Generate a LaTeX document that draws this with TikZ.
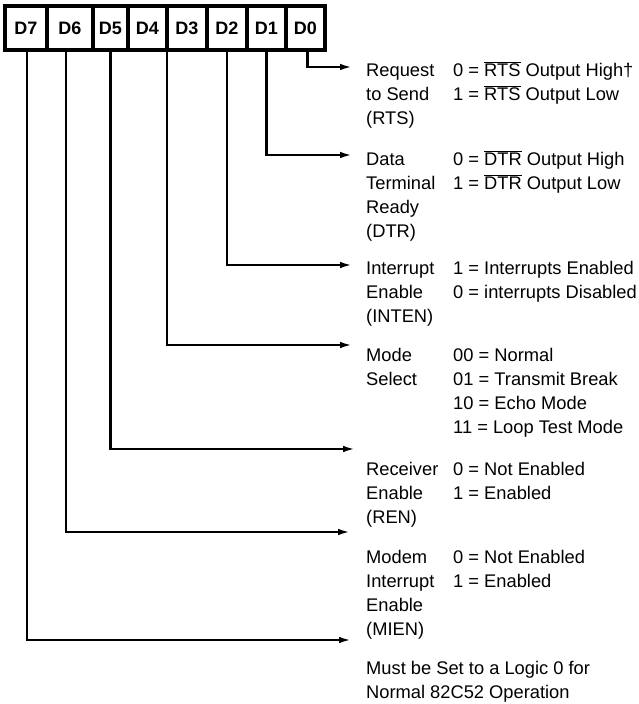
\documentclass[tikz,border=0pt]{standalone}
\usepackage{fontspec}
\setmainfont{Liberation Sans}
\usetikzlibrary{positioning,arrows.meta}

\tikzset{
  bit/.style={draw, line width=4pt, inner sep=0pt, outer sep=0pt, minimum height=44pt, font=\fontsize{18}{20}\selectfont\bfseries},
  conn/.style={line width=2.5pt, -{Latex[length=13pt,width=6.5pt]}},
  txt/.style={anchor=base west, inner sep=0pt, align=left, font=\fontsize{18.3}{24}\selectfont}
}
\newcommand{\negsig}[1]{$\overline{\mbox{#1}}$}

\begin{document}
\begin{tikzpicture}[x=1pt, y=-1pt]
			\useasboundingbox (0,0) rectangle (639,704);
			% register bits
			\node[bit, minimum width=42pt] (d7) at (26,28) {D7};
			\node[bit, minimum width=46pt, right=0pt of d7] (d6) {D6};
			\node[bit, minimum width=35pt, right=0pt of d6] (d5) {D5};
			\node[bit, minimum width=39pt, right=0pt of d5] (d4) {D4};
			\node[bit, minimum width=40pt, right=0pt of d4] (d3) {D3};
			\node[bit, minimum width=40pt, right=0pt of d3] (d2) {D2};
			\node[bit, minimum width=39pt, right=0pt of d2] (d1) {D1};
			\node[bit, minimum width=39pt, right=0pt of d1] (d0) {D0};
			
			% descriptions (anchored at the baseline of their last line)
			\node[txt] (rts) at (366,124) {Request\\to Send\\(RTS)};
			\node[txt] (rtsv) at (453,100) {0 = \negsig{RTS} Output High†\\1 = \negsig{RTS} Output Low};
			\node[txt] (dtr) at (366,237) {Data\\Terminal\\Ready\\(DTR)};
			\node[txt] (dtrv) at (453,189) {0 = \negsig{DTR} Output High\\1 = \negsig{DTR} Output Low};
			\node[txt] (inten) at (366,322) {Interrupt\\Enable\\(INTEN)};
			\node[txt] (intenv) at (453,298) {1 = Interrupts Enabled\\0 = interrupts Disabled};
			\node[txt] (mode) at (366,385) {Mode\\Select};
			\node[txt] (modev) at (453,433) {00 = Normal\\01 = Transmit Break\\10 = Echo Mode\\11 = Loop Test Mode};
			\node[txt] (ren) at (366,523) {Receiver\\Enable\\(REN)};
			\node[txt] (renv) at (453,499) {0 = Not Enabled\\1 = Enabled};
			\node[txt] (mien) at (366,635) {Modem\\Interrupt\\Enable\\(MIEN)};
			\node[txt] (mienv) at (453,587) {0 = Not Enabled\\1 = Enabled};
			\node[txt] (note) at (366,698) {Must be Set to a Logic 0 for\\Normal 82C52 Operation};
			
			\coordinate (rtsin) at (353,67);
			\coordinate (dtrin) at (353,155);
			\coordinate (intenin) at (353,265);
			\coordinate (modein) at (353,345);
			\coordinate (renin) at (356,449);
			\coordinate (mienin) at (351,532);
			\coordinate (d7in) at (352,640);
			
			% connectors
			\draw[conn] ([xshift=2pt]d0.south) |- (rtsin);
			\draw[conn] (d1.south) |- (dtrin);
			\draw[conn] (d2.south) |- (intenin);
			\draw[conn] (d4.south east) |- (modein);
			\draw[conn] (d5.south) |- (renin);
			\draw[conn] ([xshift=-4pt]d6.south) |- (mienin);
			\draw[conn] ([xshift=1pt]d7.south) |- (d7in);
		\end{tikzpicture}
\end{document}
